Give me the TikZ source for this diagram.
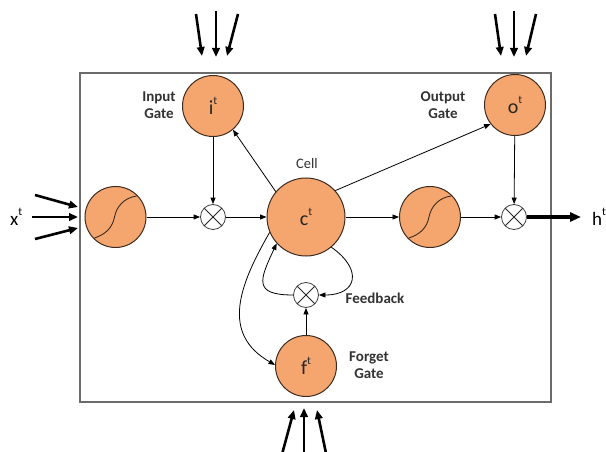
\documentclass[tikz,border=0pt]{standalone}
\usepackage{fontspec}
\setmainfont{Carlito}
\usetikzlibrary{arrows.meta}
\definecolor{gatefill}{HTML}{F5A66F}
\definecolor{gateedge}{HTML}{3D2B1F}
\definecolor{boxedge}{HTML}{6B6B6B}
% symbol with a small raised time index
\newcommand\tidx[2]{#1\raisebox{0.5em}{\fontsize{11.5}{11.5}\selectfont #2}}

\begin{document}
\begin{tikzpicture}[x=1pt,y=1pt,
  unit/.style={circle,draw=gateedge,fill=gatefill,line width=1pt,
    minimum size=61pt,inner sep=0pt,font=\fontsize{20}{22}\selectfont,text=black!85},
  cellunit/.style={unit,minimum size=78pt},
  sigunit/.style={unit,path picture={
    \draw[gateedge,line width=0.9pt]
      ([shift={(-21,-21)}]path picture bounding box.center)
      .. controls ([shift={(-9,-17)}]path picture bounding box.center)
      and ([shift={(-3,-10)}]path picture bounding box.center)
      .. ([shift={(-1,0)}]path picture bounding box.center)
      .. controls ([shift={(1,10)}]path picture bounding box.center)
      and ([shift={(8,19)}]path picture bounding box.center)
      .. ([shift={(21,21)}]path picture bounding box.center);}},
  mult/.style={circle,draw=black!75,fill=white,line width=0.8pt,
    minimum size=25pt,inner sep=0pt,path picture={
    \draw[black!85,line width=0.8pt]
      (path picture bounding box.south west) -- (path picture bounding box.north east)
      (path picture bounding box.north west) -- (path picture bounding box.south east);}},
  flow/.style={-{Triangle[length=6.5pt,width=5pt]},line width=0.8pt},
  feed/.style={-{Triangle[length=9pt,width=7.5pt]},line width=2.6pt},
  lbl/.style={font=\fontsize{15}{17.5}\selectfont\bfseries,align=center,text=black!80},
  ]
\useasboundingbox[fill=white] (0,0) rectangle (606,-452);

% cell boundary
\draw[boxedge,line width=1.6pt] (80,-73) rectangle (551,-402);

% units
\node[sigunit] (sigL) at (115.5,-217) {};
\node[unit] (igate) at (213,-106) {\tidx{i}{t}};
\node[unit] (ogate) at (515,-105) {\tidx{o}{t}};
\node[cellunit] (cell) at (306,-217) {\tidx{c}{t}};
\node[sigunit] (sigR) at (430,-217) {};
\node[unit] (fgate) at (306,-366) {\tidx{f}{t}};
\node[mult] (mulL) at (213,-217) {};
\node[mult] (mulR) at (514,-217) {};
\node[mult] (fbmul) at (306,-295) {};

% labels
\node[lbl] (inlab) at (159,-105) {Input\\Gate};
\node[lbl] (outlab) at (443,-105) {Output\\Gate};
\node[lbl] (fglab) at (369,-365) {Forget\\Gate};
\node[lbl,anchor=base] (fblab) at (375,-303) {Feedback};
\node[font=\fontsize{14.5}{16}\selectfont,text=black!80,anchor=base] (celllab) at (307,-168) {Cell};
\node[font=\fontsize{19}{20}\selectfont,anchor=base west,inner sep=0pt] (xlab) at (10,-225) {\tidx{x}{t}};
\node[font=\fontsize{19}{20}\selectfont,anchor=base west,inner sep=0pt] (hlab) at (592,-225) {\tidx{h}{t}};

% internal connections
\draw[flow] (sigL) -- (mulL);
\draw[flow] (igate) -- (mulL);
\draw[flow] (mulL) -- (cell);
\draw[flow] (cell.140) -- (igate.-50);
\draw[flow] (cell.42) -- (ogate.218);
\draw[flow] (cell) -- (sigR);
\draw[flow] (sigR) -- (mulR);
\draw[flow] (ogate) -- (mulR);
\draw[flow] (cell.-50) to[out=-35,in=0,looseness=2] (fbmul.east);
\draw[flow] (fbmul.west) to[out=180,in=245,looseness=1.9] (cell.222);
\draw[flow] (cell.203) to[out=240,in=150,looseness=1.2] (fgate.178);
\draw[flow] (fgate) -- (fbmul);

% external inputs
\coordinate (ia1) at (196,-14);  \coordinate (ib1) at (202,-56);
\coordinate (ia2) at (216,-11);  \coordinate (ib2) at (216,-57);
\coordinate (ia3) at (238,-14);  \coordinate (ib3) at (227,-56);
\coordinate (oa1) at (495,-14);  \coordinate (ob1) at (501,-56);
\coordinate (oa2) at (514,-11);  \coordinate (ob2) at (514,-57);
\coordinate (oa3) at (536,-14);  \coordinate (ob3) at (526,-56);
\coordinate (fa1) at (281,-458); \coordinate (fb1) at (294,-410);
\coordinate (fa2) at (304,-458); \coordinate (fb2) at (304,-408);
\coordinate (fa3) at (327,-458); \coordinate (fb3) at (317,-410);
\coordinate (xa1) at (35,-195);  \coordinate (xb1) at (78,-207);
\coordinate (xa2) at (32,-217);  \coordinate (xb2) at (78,-217);
\coordinate (xa3) at (35,-239);  \coordinate (xb3) at (78,-228);
\coordinate (hend) at (581,-217);
\foreach \g in {i,o,f,x} {
  \foreach \k in {1,2,3} {
    \draw[feed] (\g a\k) -- (\g b\k);
  }
}
\draw[-{Triangle[length=11pt,width=9pt]},line width=3.4pt] (mulR) -- (hend);
\end{tikzpicture}
\end{document}
